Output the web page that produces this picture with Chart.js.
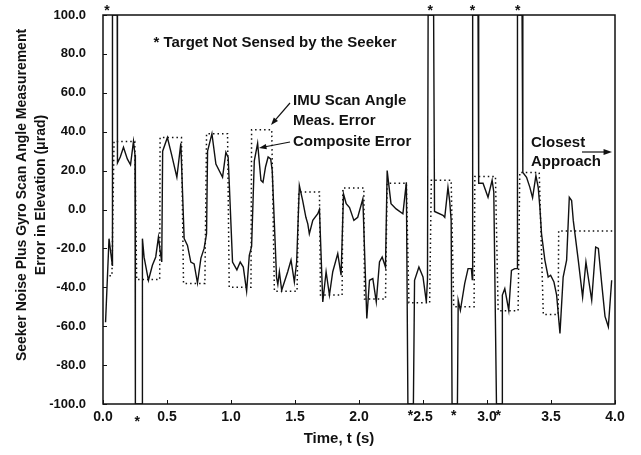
<!DOCTYPE html>
<html>
<head>
<meta charset="utf-8">
<script src="https://cdn.jsdelivr.net/npm/chart.js@4.4.1/dist/chart.umd.min.js"></script>
<style>
  body { margin: 0; background: #fff; }
  #wrap { width: 641px; height: 455px; }
</style>
</head>
<body>
<div id="wrap"><canvas id="chart" width="641" height="455"></canvas></div>
<script>
var FONT = "'Liberation Sans', Arial, sans-serif";

// composite error (solid) - time in s, error in microrad
var compTime = [0.02, 0.047, 0.073, 0.074, 0.111, 0.113, 0.135, 0.16, 0.19, 0.215, 0.238, 0.25, 0.253, 0.305, 0.308,
  0.321, 0.355, 0.386, 0.412, 0.433, 0.446, 0.459, 0.466, 0.503, 0.535, 0.577, 0.608,
  0.634, 0.66, 0.686, 0.712, 0.738, 0.765, 0.79, 0.809, 0.817, 0.851, 0.882, 0.934, 0.96, 0.978,
  1.012, 1.046, 1.072, 1.096, 1.122, 1.143, 1.161, 1.182, 1.208, 1.234, 1.25, 1.27, 1.29, 1.31, 1.322,
  1.356, 1.366, 1.378, 1.396, 1.443, 1.469, 1.495, 1.513, 1.534, 1.56, 1.585, 1.6, 1.612, 1.639, 1.678, 1.691,
  1.717, 1.743, 1.769, 1.795, 1.834, 1.86, 1.879, 1.9, 1.926, 1.96, 1.99, 2.03,
  2.061, 2.082, 2.108, 2.135, 2.16, 2.181, 2.207, 2.22, 2.25, 2.29, 2.343, 2.37, 2.382, 2.425,
  2.434, 2.468, 2.5, 2.526, 2.535, 2.54, 2.583, 2.59, 2.656, 2.67, 2.695, 2.708, 2.72, 2.727, 2.769,
  2.775, 2.792, 2.826, 2.852, 2.878, 2.885, 2.888, 2.93, 2.935, 2.969, 3.008, 3.04, 3.053, 3.074, 3.118,
  3.12, 3.139, 3.17, 3.191, 3.217, 3.235, 3.238, 3.274, 3.28, 3.309, 3.335, 3.356, 3.382, 3.4, 3.413,
  3.426, 3.452, 3.478, 3.497, 3.523, 3.544, 3.57, 3.595, 3.622, 3.643, 3.661, 3.674, 3.713, 3.747,
  3.773, 3.818, 3.849, 3.87, 3.896, 3.922, 3.948, 3.974];
var compErr = [-58, -15, -28.7, 100, 100, 24, 27, 32, 26, 23, 35, 28, -100, -100, -15,
  -24.5, -36.4, -28.7, -24.4, -14.2, -21, -27, 30, 37, 28.5, 16.6, 34,
  -15, -18.5, -27, -28, -37.8, -25, -20, -12.5, 30, 39, 23.4, 16.6, 29.4, 26.8,
  -27, -31, -27, -29.6, -42, -23.6, -19, 25, 34, 15, 14, 22, 27, 26, 20,
  -35, -38.5, -32, -41.5, -32, -26, -37.3, -27, 12.3, 4.6, -4, -7.4, -12.5, -5.6, -2.2, 0,
  -47.5, -32, -44, -32, -22.7, -33.8, 8, 3, 1, -5.6, -4, 5.5,
  -56, -36.4, -35.5, -47.5, -27, -24.4, -29.6, 20, 3, 0.3, -2.2, 14, -100, -100,
  -36.4, -29.6, -34.7, -47.5, -36, 100, 100, -1, -3, -4, 11.4, 4.6, -5.6, -100, -100,
  -46.7, -51.8, -38, -30.4, -30.4, -36, 100, 100, 13.5, 13.5, 6.3, 15, 9, -100, -100,
  -44, -40.7, -51.8, -31.3, -30.4, -30.4, 100, 100, 19, 16.6, 11.4, 6, 17.4, 11.4, 1.2,
  -12.5, -26, -34.7, -33.8, -37.3, -44, -63.7, -34.7, -26, 6.3, 4.6, -5.6, -26, -45,
  -27, -46.7, -19.3, -20, -38, -55, -60.3, -36.4];

// IMU scan angle measurement error (dotted step)
var imuTime = [0.05, 0.07, 0.086, 0.248, 0.263, 0.443, 0.446, 0.613, 0.629, 0.796, 0.809, 0.973,
  0.986, 1.156, 1.161, 1.318, 1.339, 1.516, 1.529, 1.691, 1.699, 1.868, 1.874, 2.038,
  2.043, 2.207, 2.22, 2.37, 2.39, 2.552, 2.565, 2.72, 2.74, 2.899, 2.905, 3.066,
  3.087, 3.243, 3.256, 3.408, 3.44, 3.556, 3.56, 3.98];
var imuErr = [-34, -34, 35, 35, -36, -36, 37, 37, -38, -38, 39, 39,
  -40, -40, 41, 41, -42, -42, 9, 9, -44, -44, 11, 11,
  -46, -46, 13.5, 13.5, -48, -48, 15, 15, -50, -50, 17, 17,
  -52, -52, 19, 19, -54, -54, -11, -11];

// target not sensed markers
var starsTop = [0.031, 2.556, 2.887, 3.24];
var starsBottom = [0.268, 2.403, 2.74, 3.087];

var xTickValues = [0, 0.5, 1, 1.5, 2, 2.5, 3, 3.5, 4];
var yTickValues = [-100, -80, -60, -40, -20, 0, 20, 40, 60, 80, 100];

function toPoints(xs, ys) {
  var pts = [];
  for (var i = 0; i < xs.length; i++) pts.push({ x: xs[i], y: ys[i] });
  return pts;
}

function arrow(ctx, x1, y1, x2, y2, head) {
  var a = Math.atan2(y2 - y1, x2 - x1);
  ctx.beginPath();
  ctx.moveTo(x1, y1);
  ctx.lineTo(x2 - Math.cos(a) * head * 0.8, y2 - Math.sin(a) * head * 0.8);
  ctx.stroke();
  ctx.beginPath();
  ctx.moveTo(x2, y2);
  ctx.lineTo(x2 - head * Math.cos(a - 0.35), y2 - head * Math.sin(a - 0.35));
  ctx.lineTo(x2 - head * Math.cos(a + 0.35), y2 - head * Math.sin(a + 0.35));
  ctx.closePath();
  ctx.fill();
}

var decor = {
  id: 'decor',
  afterDraw: function (chart) {
    var ctx = chart.ctx;
    var a = chart.chartArea;
    var xs = chart.scales.x, ys = chart.scales.y;
    ctx.save();
    ctx.strokeStyle = '#111';
    ctx.fillStyle = '#111';

    // frame
    ctx.lineWidth = 1.5;
    ctx.strokeRect(a.left, a.top, a.right - a.left, a.bottom - a.top);

    // inward tick marks
    ctx.lineWidth = 1;
    ctx.beginPath();
    for (var i = 0; i < yTickValues.length; i++) {
      var py = Math.round(ys.getPixelForValue(yTickValues[i])) + 0.5;
      ctx.moveTo(a.left, py);
      ctx.lineTo(a.left + 4, py);
    }
    for (var i = 0; i < xTickValues.length; i++) {
      var px = Math.round(xs.getPixelForValue(xTickValues[i])) + 0.5;
      ctx.moveTo(px, a.bottom);
      ctx.lineTo(px, a.bottom - 4);
    }
    ctx.stroke();

    // stars
    ctx.font = 'bold 14px ' + FONT;
    ctx.textAlign = 'center';
    ctx.textBaseline = 'alphabetic';
    for (var i = 0; i < starsTop.length; i++) {
      ctx.fillText('*', xs.getPixelForValue(starsTop[i]), 15);
    }
    for (var i = 0; i < starsBottom.length; i++) {
      ctx.fillText('*', xs.getPixelForValue(starsBottom[i]), i === 0 ? 426 : 420);
    }

    // annotations
    ctx.font = 'bold 15px ' + FONT;
    ctx.textBaseline = 'middle';
    ctx.fillText('* Target Not Sensed by the Seeker', 275, 43);
    ctx.textAlign = 'left';
    ctx.fillText('IMU Scan Angle', 293, 101);
    ctx.fillText('Meas. Error', 293, 121);
    ctx.fillText('Composite Error', 293, 142);
    ctx.fillText('Closest', 531, 143);
    ctx.fillText('Approach', 531, 162);

    ctx.lineWidth = 1.2;
    arrow(ctx, 290, 103, 271, 125, 8);
    arrow(ctx, 290, 142, 259, 148, 8);
    arrow(ctx, 582, 152, 612, 152, 9);

    // axis titles
    ctx.textAlign = 'center';
    ctx.fillText('Time, t (s)', 339, 439);
    ctx.font = 'bold 14px ' + FONT;
    ctx.translate(22, 195);
    ctx.rotate(-Math.PI / 2);
    ctx.fillText('Seeker Noise Plus Gyro Scan Angle Measurement', 0, 0);
    ctx.fillText('Error in Elevation (\u03bcrad)', 0, 19);
    ctx.restore();
  },
};

new Chart(document.getElementById('chart'), {
  type: 'scatter',
  data: {
    datasets: [
      {
        label: 'Composite Error',
        data: toPoints(compTime, compErr),
        showLine: true,
        borderColor: '#111',
        borderWidth: 1.4,
        pointRadius: 0,
        tension: 0,
      },
      {
        label: 'IMU Scan Angle Meas. Error',
        data: toPoints(imuTime, imuErr),
        showLine: true,
        borderColor: '#111',
        borderWidth: 1.5,
        borderDash: [1.5, 3],
        pointRadius: 0,
        tension: 0,
      },
    ],
  },
  options: {
    responsive: false,
    animation: false,
    events: [],
    layout: { padding: { top: 15, right: 26, left: 0, bottom: 0 } },
    plugins: { legend: { display: false }, tooltip: { enabled: false } },
    scales: {
      x: {
        type: 'linear',
        min: 0,
        max: 4,
        afterBuildTicks: function (s) { s.ticks = xTickValues.map(function (v) { return { value: v }; }); },
        afterFit: function (s) { s.height = 51; s.paddingLeft = 0; s.paddingRight = 0; },
        grid: { display: false, drawTicks: false },
        border: { display: false },
        ticks: {
          padding: 5,
          color: '#111',
          font: { family: FONT, size: 14, weight: 'bold' },
          callback: function (v) { return Number(v).toFixed(1); },
        },
      },
      y: {
        min: -100,
        max: 100,
        afterBuildTicks: function (s) { s.ticks = yTickValues.map(function (v) { return { value: v }; }); },
        afterFit: function (s) { s.width = 103; s.paddingTop = 0; s.paddingBottom = 0; },
        grid: { display: false, drawTicks: false },
        border: { display: false },
        ticks: {
          padding: 17,
          color: '#111',
          font: { family: FONT, size: 13, weight: 'bold' },
          callback: function (v) { return Number(v).toFixed(1); },
        },
      },
    },
  },
  plugins: [decor],
});
</script>
</body>
</html>
